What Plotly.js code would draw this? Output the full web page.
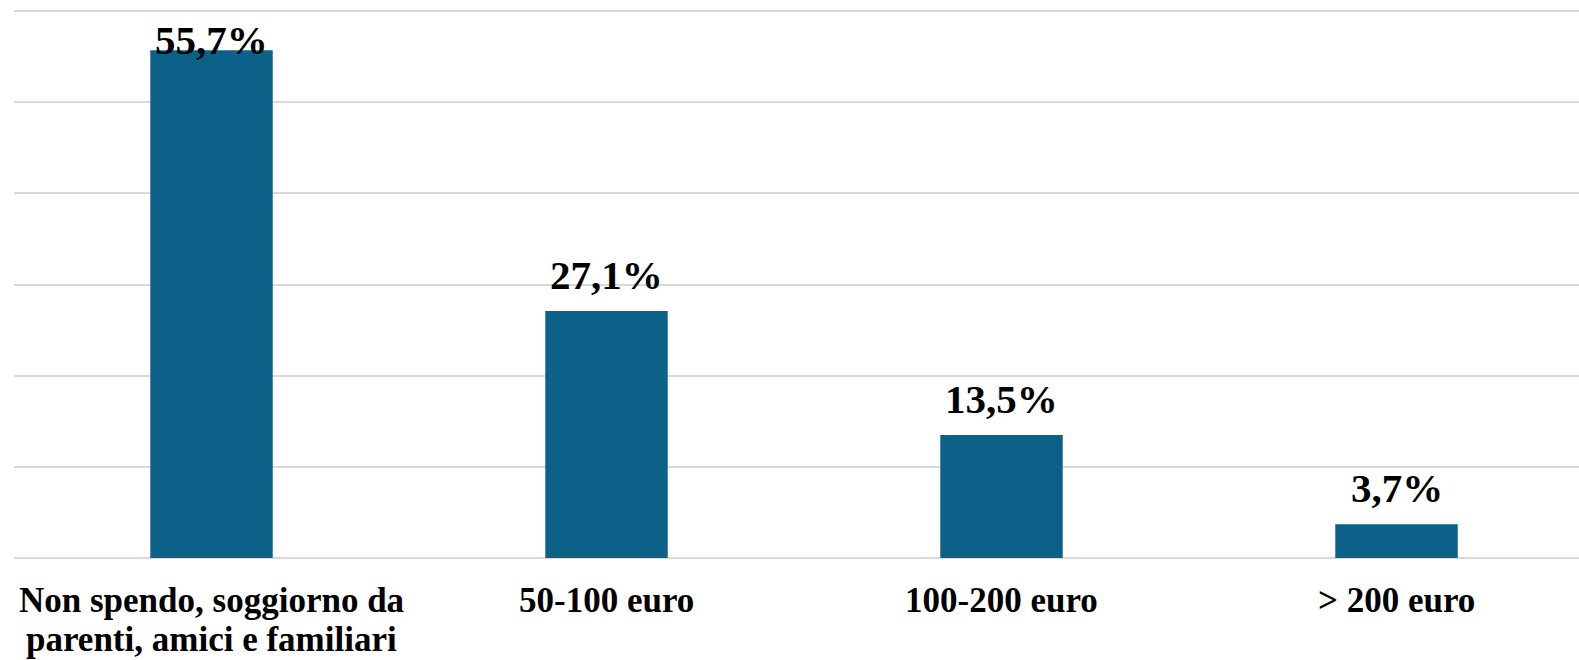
<!DOCTYPE html>
<html>
<head>
<meta charset="utf-8">
<script src="https://cdn.plot.ly/plotly-3.0.1.min.js"></script>
<style>
	html, body { margin: 0; padding: 0; background: #ffffff; }
	#plotDiv { width: 1579px; height: 660px; }
</style>
</head>
<body>
<div id="plotDiv"></div>
<script>
// Chart data
const categories = [
	"Non spendo, soggiorno da<br>parenti, amici e familiari",
	"50-100 euro",
	"100-200 euro",
	"> 200 euro",
];
const shares = [55.7, 27.1, 13.5, 3.7];

// Label text in Italian decimal format
const shareLabels = shares.map((v) => v.toFixed(1).replace(".", ",") + "%");

const BAR_COLOR = "#0c6189";
const GRID_COLOR = "#d9d9d9";
const FONT = "'Liberation Serif', 'Times New Roman', serif";

// Labels are kept inside the chart area (first bar label sits lower)
const LABEL_CEILING = 52.9;
// Line spacing of category labels (tighter than Plotly's own <br>)
const CAT_LINE_GAP = 39;

const xIdx = categories.map((_, i) => i);

const trace = {
	x: xIdx,
	y: shares,
	type: "bar",
	marker: { color: BAR_COLOR },
	hoverinfo: "skip",
};

// Value labels above bars
const annotations = shares.map((v, i) => ({
	x: i,
	y: Math.min(v, LABEL_CEILING),
	xref: "x",
	yref: "y",
	text: "<b>" + shareLabels[i] + "</b>",
	showarrow: false,
	yanchor: "bottom",
	yshift: 11,
	font: { family: FONT, size: 41, color: "#000000" },
}));

// Category labels under the axis, one annotation per line
categories.forEach((cat, i) => {
	cat.split("<br>").forEach((line, j) => {
		annotations.push({
			x: i,
			y: 0,
			xref: "x",
			yref: "paper",
			text: "<b>" + line + "</b>",
			showarrow: false,
			yanchor: "top",
			borderpad: 0,
			yshift: -22 - j * CAT_LINE_GAP,
			font: { family: FONT, size: 35, color: "#000000" },
		});
	});
});

const layout = {
	width: 1579,
	height: 660,
	margin: { l: 14, r: 0, t: 2, b: 102 },
	paper_bgcolor: "#ffffff",
	plot_bgcolor: "#ffffff",
	showlegend: false,
	bargap: 0.69,
	xaxis: {
		range: [-0.5, 3.462],
		tickvals: xIdx,
		showticklabels: false,
		showgrid: false,
		zeroline: false,
		showline: false,
		ticks: "",
	},
	yaxis: {
		range: [0, 61],
		dtick: 10,
		showticklabels: false,
		showgrid: true,
		gridcolor: GRID_COLOR,
		gridwidth: 2,
		zeroline: true,
		zerolinecolor: GRID_COLOR,
		zerolinewidth: 2,
		showline: false,
		ticks: "",
	},
	annotations: annotations,
};

Plotly.newPlot("plotDiv", [trace], layout, { displayModeBar: false, staticPlot: true });
</script>
</body>
</html>
